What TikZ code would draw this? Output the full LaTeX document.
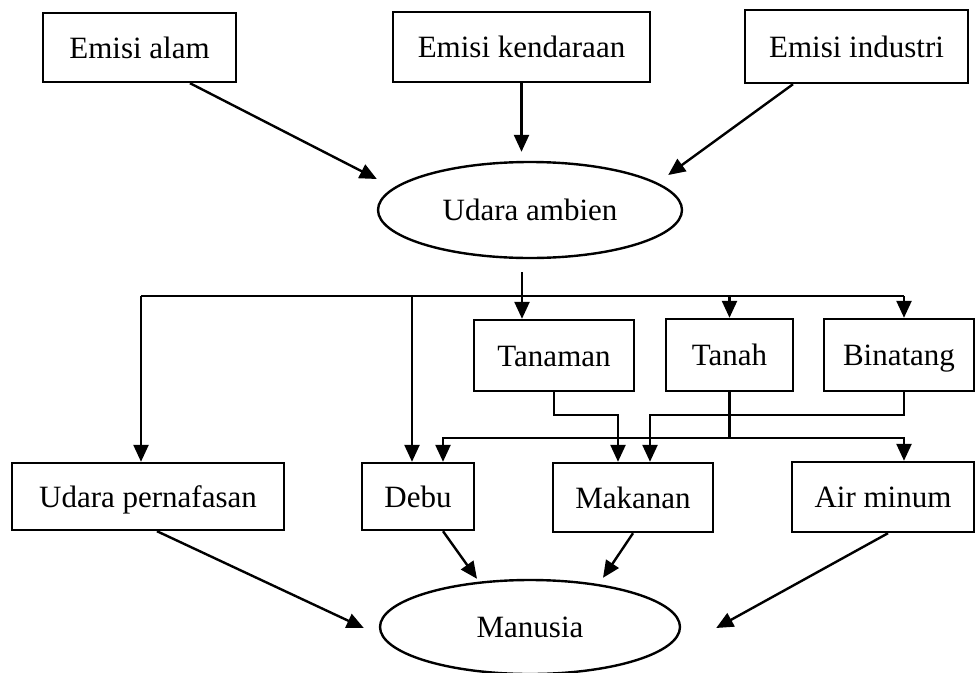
\documentclass[tikz,border=0pt]{standalone}
\usepackage{fontspec}
\setmainfont{Liberation Serif}
\usetikzlibrary{arrows.meta,shapes.geometric,calc}
\begin{document}
\begin{tikzpicture}[x=1pt,y=-1pt,line width=2.4pt,
  every node/.style={font=\fontsize{31}{36}\selectfont, inner sep=0pt},
  box/.style={draw, rectangle, line width=2.4pt, text height=21pt, text depth=0pt},
  oval/.style={draw, ellipse, line width=2.4pt, text height=21pt, text depth=0pt},
  arr/.style={-{Triangle[length=17pt,width=15pt]}}]
\useasboundingbox (0,0) rectangle (976,672);
% nodes
\node[box, minimum width=193pt, minimum height=69pt] (alam) at (139.5,47.5) {Emisi alam};
\node[box, minimum width=257pt, minimum height=70pt] (kend) at (521.5,47) {Emisi kendaraan};
\node[box, minimum width=223pt, minimum height=73pt] (ind) at (856.5,46.5) {Emisi industri};
\node[oval, minimum width=304pt, minimum height=96pt] (amb) at (530,210) {Udara ambien};
\node[box, minimum width=160pt, minimum height=71pt] (tanaman) at (554,355.5) {Tanaman};
\node[box, minimum width=127pt, minimum height=72pt] (tanah) at (729.5,355) {Tanah};
\node[box, minimum width=150pt, minimum height=72pt] (binatang) at (899,355) {Binatang};
\node[box, minimum width=272pt, minimum height=67pt] (upern) at (148,496.5) {Udara pernafasan};
\node[box, minimum width=112pt, minimum height=67pt] (debu) at (418,496.5) {Debu};
\node[box, minimum width=160pt, minimum height=69pt] (makanan) at (633,497.5) {Makanan};
\node[box, minimum width=182pt, minimum height=70pt] (air) at (883,497) {Air minum};
\node[oval, minimum width=300pt, minimum height=94pt] (manusia) at (530,627) {Manusia};
% top arrows
\coordinate (t1) at ($(amb.west)+(0,-31)$);
\coordinate (t3) at ($(amb.east)+(-15,-35)$);
\draw[arr] ($(alam.south)+(50.5,0)$) -- (t1);
\draw[arr] (kend.south) -- ($(kend.south |- amb.north)+(0,-9)$);
\draw[arr] ($(ind.south)+(-63.5,0)$) -- (t3);
% distribution bus
\coordinate (a0) at ($(amb.south)+(-8,13)$);
\coordinate (busL) at (141,296);
\coordinate (busR) at (904,296);
\coordinate (bd) at ($(busL -| debu.north)+(-6,0)$);
\draw (busL) -- (busR);
\draw[arr] (a0) -- (a0 |- tanaman.north);
\draw[arr] (busL) -- (busL |- upern.north);
\draw[arr] (bd) -- (bd |- debu.north);
\draw[arr] (busL -| tanah.north) -- (tanah.north);
\draw[arr] (busR) -- (busR |- binatang.north);
% middle routing
\draw[arr] (tanaman.south) -- ++(0,23) -| ($(makanan.north)+(-15,0)$);
\draw[arr] ($(binatang.south)+(5,0)$) -- ++(0,23) -| ($(makanan.north)+(17,0)$);
\draw (tanah.south) -- ++(0,46) coordinate (tj);
\draw[arr] (tj) -| ($(debu.north)+(25,0)$);
\draw[arr] (tj) -| ($(air.north)+(21,0)$);
% bottom arrows
\draw[arr] ($(upern.south)+(9,0)$) -- ($(manusia.west)+(-15,1)$);
\draw[arr] ($(debu.south)+(25,0)$) -- ($(manusia.north)+(-53,0)$);
\draw[arr] (makanan.south) -- ($(manusia.north)+(73,-1)$);
\draw[arr] ($(air.south)+(5,0)$) -- ($(manusia.east)+(35,1)$);
\end{tikzpicture}
\end{document}
